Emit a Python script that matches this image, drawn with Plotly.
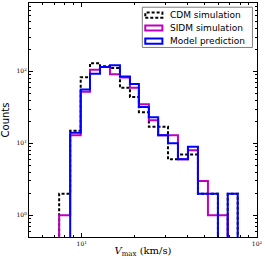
import numpy as np
import plotly.graph_objects as go

# log10 of bin edges (km/s)
log_edges = [0.871, 0.934, 0.994, 1.047, 1.104, 1.161, 1.218, 1.275, 1.326, 1.383,
             1.436, 1.492, 1.549, 1.606, 1.663, 1.720, 1.777, 1.833, 1.890]
cdm_counts = [2, 15, 83, 130, 118, 111, 59, 44, 27, 17, 17, 6, 7, 7, 2, 2, 0, 2]
sidm_counts = [1, 13, 52, 105, 115, 91, 82, 59, 35, 21, 13, 13, 6, 8, 3, 1, 1, 0]
model_counts = [0, 14, 56, 93, 115, 122, 85, 67, 32, 23, 13, 10, 6, 9, 2, 2, 0, 2]

x_tick_vals = [10, 100]
x_tick_text = ["10<sup>1</sup>", "10<sup>2</sup>"]
y_tick_vals = [1, 10, 100]
y_tick_text = ["10<sup>0</sup>", "10<sup>1</sup>", "10<sup>2</sup>"]

series_names = ["CDM simulation", "SIDM simulation", "Model prediction"]
series_colors = ["black", "#BF00BF", "#0000FF"]
series_dash = ["3px,2px", "solid", "solid"]
series_counts = [cdm_counts, sidm_counts, model_counts]

edges = [10 ** v for v in log_edges]
floor = 1e-3

fig = go.Figure()
for name, col, dash, counts in zip(series_names, series_colors, series_dash, series_counts):
    ys = [floor] + [c if c > 0 else floor for c in counts] + [floor]
    xs = [edges[0]] + edges
    fig.add_trace(go.Scatter(x=xs, y=ys, mode="lines", line_shape="hv", name=name,
                             line=dict(color=col, width=2, dash=dash), showlegend=False,
                             hoverinfo="skip"))

# manual legend (box with rectangular patches)
fig.add_shape(type="rect", xref="paper", yref="paper", x0=0.497, x1=0.98,
              y0=0.81, y1=0.982, line=dict(color="#7f7f7f", width=1), fillcolor="white")
row_y = [0.948, 0.893, 0.837]
for name, col, dash, yy in zip(series_names, series_colors, series_dash, row_y):
    fig.add_shape(type="rect", xref="paper", yref="paper", x0=0.51, x1=0.585,
                  y0=yy - 0.011, y1=yy + 0.011,
                  line=dict(color=col, width=2, dash=dash), fillcolor="rgba(0,0,0,0)")
    fig.add_annotation(xref="paper", yref="paper", x=0.61, y=yy, text=name,
                       showarrow=False, xanchor="left", yanchor="middle",
                       font=dict(family="DejaVu Sans", size=9, color="black"))

axis_common = dict(type="log", showgrid=False, zeroline=False, showline=True,
                   linecolor="black", linewidth=1, mirror="allticks",
                   ticks="inside", ticklen=4, tickcolor="black", automargin=False,
                   tickfont=dict(family="DejaVu Serif", size=6, color="black"),
                   minor=dict(ticks="inside", ticklen=2, tickcolor="black",
                              tickvals=[]))

minor_vals = [m * 10 ** d for d in (-1, 0, 1, 2) for m in range(2, 10)]

fig.update_layout(
    width=265, height=262,
    margin=dict(l=29, r=8, t=3, b=25),
    paper_bgcolor="white", plot_bgcolor="white",
    xaxis=dict(range=[np.log10(5), 2], tickvals=x_tick_vals, ticktext=x_tick_text,
               ticklabelstandoff=1,
               title=dict(text="<i>V</i><sub>max</sub> (km/s)", standoff=0,
                          font=dict(family="DejaVu Serif", size=10, color="black")),
               **axis_common),
    yaxis=dict(range=[np.log10(0.5), 2.95], tickvals=y_tick_vals, ticktext=y_tick_text,
               title=dict(text="Counts", standoff=4,
                          font=dict(family="DejaVu Sans", size=10, color="black")),
               **axis_common),
)
fig.update_xaxes(minor_tickvals=minor_vals)
fig.update_yaxes(minor_tickvals=minor_vals)

fig.write_html("out.html", config={"displayModeBar": False},
               post_script="document.body.style.margin='0';")
